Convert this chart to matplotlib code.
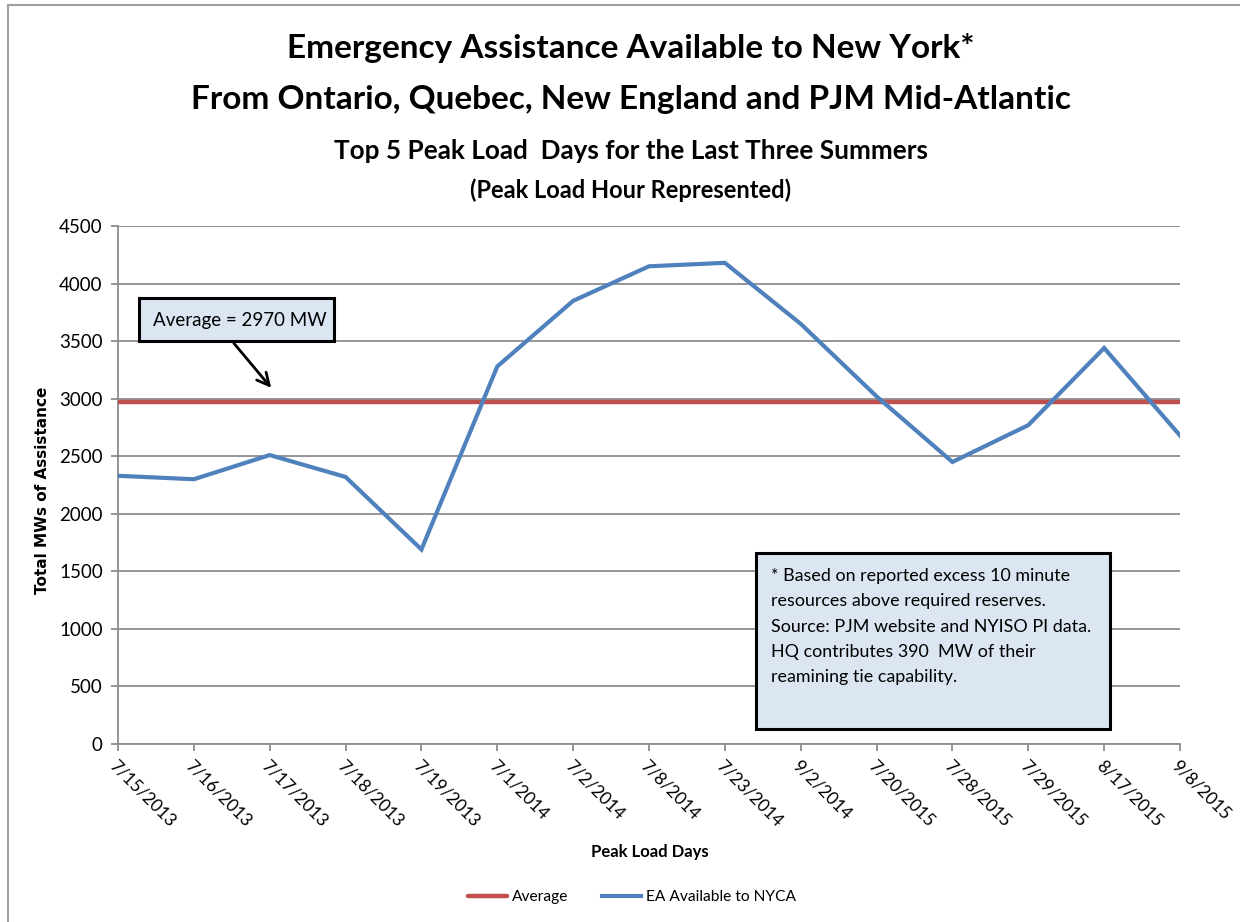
import matplotlib
matplotlib.use("Agg")
import matplotlib.pyplot as plt
from matplotlib.patches import Rectangle

plt.rcParams['font.family'] = ['Lato', 'DejaVu Sans']

days = ["7/15/2013", "7/16/2013", "7/17/2013", "7/18/2013", "7/19/2013",
        "7/1/2014", "7/2/2014", "7/8/2014", "7/23/2014", "9/2/2014",
        "7/20/2015", "7/28/2015", "7/29/2015", "8/17/2015", "9/8/2015"]
ea_available = [2330, 2300, 2510, 2320, 1690,
                3280, 3850, 4150, 4180, 3650,
                3020, 2450, 2770, 3440, 2680]
average_mw = 2970
y_ticks = [0, 500, 1000, 1500, 2000, 2500, 3000, 3500, 4000, 4500]

RED = '#c0504d'
BLUE = '#4f81bd'
BOX_FILL = '#dce6f2'
GRID = '#8c8c8c'

W, H = 1240, 922
fig = plt.figure(figsize=(W / 100, H / 100), dpi=100)

# outer chart frame
fig.patches.append(Rectangle((8 / W, -0.1), 1.2, (H - 5) / H + 0.1,
                             transform=fig.transFigure, fill=False,
                             edgecolor='#a0a0a0', linewidth=1.5))

ax = fig.add_axes([118 / W, (H - 744) / H, (1180 - 118) / W, (744 - 226) / H])

x = list(range(len(days)))
ax.plot([x[0], x[-1]], [average_mw, average_mw], color=RED, lw=3.2,
        solid_capstyle='round', label='Average', zorder=3)
ax.plot(x, ea_available, color=BLUE, lw=3.0, solid_joinstyle='miter',
        label='EA Available to NYCA', zorder=4)

ax.set_xlim(0, len(days) - 1)
ax.set_ylim(0, 4500)
ax.set_yticks(y_ticks)
ax.set_yticklabels([str(v) for v in y_ticks], fontsize=13.5)
ax.yaxis.grid(True, color=GRID, lw=1.3)
ax.set_axisbelow(True)

ax.set_xticks(x)
ax.set_xticklabels([])
for xi, lab in zip(x, days):
    ax.annotate(lab, xy=(xi, 0), xycoords='data', xytext=(-4, -14),
                textcoords='offset points', rotation=-45,
                rotation_mode='anchor', ha='left', va='center', fontsize=12.5)

for side in ['top', 'right']:
    ax.spines[side].set_visible(False)
for side in ['left', 'bottom']:
    ax.spines[side].set_color(GRID)
    ax.spines[side].set_linewidth(1.3)
ax.tick_params(axis='both', direction='out', length=5, color=GRID, width=1.3)
ax.tick_params(axis='y', pad=6)

ax.set_ylabel('Total MWs of Assistance', fontsize=11, fontweight='bold',
              family=['DejaVu Sans'])
ax.yaxis.set_label_coords((50 - 118) / (1180 - 118), (744 - 490) / (744 - 226))
fig.text(650 / W, 1 - 852 / H, 'Peak Load Days', ha='center', va='center',
         fontsize=12, fontweight='bold')

# titles
fig.text(631 / W, 1 - 48 / H, 'Emergency Assistance Available to New York*',
         ha='center', va='center', fontsize=24, fontweight='bold')
fig.text(631 / W, 1 - 100 / H,
         'From Ontario, Quebec, New England and PJM Mid-Atlantic',
         ha='center', va='center', fontsize=24, fontweight='bold')
fig.text(631 / W, 1 - 151 / H, 'Top 5 Peak Load  Days for the Last Three Summers',
         ha='center', va='center', fontsize=18.8, fontweight='bold')
fig.text(631 / W, 1 - 190 / H, '(Peak Load Hour Represented)',
         ha='center', va='center', fontsize=17, fontweight='bold')

# average callout
ax.annotate('', xy=(273 / W, 1 - 390 / H), xycoords='figure fraction',
            xytext=(232 / W, 1 - 341 / H), textcoords='figure fraction',
            arrowprops=dict(arrowstyle='->', color='black', lw=2,
                            mutation_scale=22))
fig.patches.append(Rectangle((139 / W, 1 - 341 / H), (334 - 139) / W,
                             (341 - 298) / H, transform=fig.transFigure,
                             facecolor=BOX_FILL, edgecolor='black', lw=2.2,
                             zorder=5))
fig.text(153 / W, 1 - 320 / H, f'Average = {average_mw} MW', ha='left',
         va='center', fontsize=13.5, zorder=6)

# footnote box
fig.patches.append(Rectangle((756 / W, 1 - 729 / H), (1110 - 756) / W,
                             (729 - 553) / H, transform=fig.transFigure,
                             facecolor=BOX_FILL, edgecolor='black', lw=2.2,
                             zorder=5))
note = ("* Based on reported excess 10 minute\n"
        "resources above required reserves.\n"
        "Source: PJM website and NYISO PI data.\n"
        "HQ contributes 390  MW of their\n"
        "reamining tie capability.")
fig.text(771 / W, 1 - 568 / H, note, ha='left', va='top', fontsize=12.9,
         linespacing=1.72, zorder=6)

leg = fig.legend(loc='center', bbox_to_anchor=(632 / W, 1 - 897 / H),
                 ncol=2, frameon=False, fontsize=11.2, handlelength=2.5,
                 columnspacing=2.2, handletextpad=0.3)

fig.savefig('out.png', dpi=100)
